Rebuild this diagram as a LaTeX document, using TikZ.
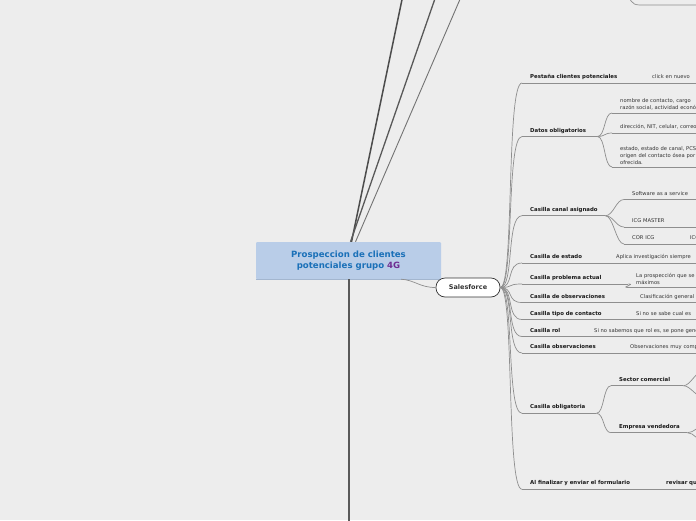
\documentclass[tikz,border=0pt]{standalone}
\usepackage{fontspec}
\setmainfont{DejaVu Sans}
\definecolor{bgc}{HTML}{EDEDED}
\definecolor{lnkc}{HTML}{8E8E8E}
\definecolor{cfill}{HTML}{B9CDE8}
\definecolor{cedge}{HTML}{A3B6CF}
\definecolor{titlec}{HTML}{1A70B8}
\definecolor{tpurple}{HTML}{6E2D91}
\begin{document}
\begin{tikzpicture}[x=1pt,y=-1pt,
  lnk/.style={draw=lnkc,line width=0.7pt},
  ul/.style={draw=lnkc,line width=0.8pt},
  lbl/.style={anchor=south west,inner xsep=8pt,inner ysep=3pt,text depth=1.2pt,align=left,font=\fontsize{5.4}{6.5}\selectfont\bfseries,text=black!90},
  leaf/.style={anchor=south west,inner xsep=8pt,inner ysep=3pt,text depth=1.2pt,align=left,text width=#1,font=\fontsize{5.2}{6.8}\selectfont,text=black!80},
  leaf/.default=130pt,
  mleaf/.style={anchor=south west,inner xsep=8pt,inner ysep=2.5pt,align=left,text width=130pt,font=\fontsize{5.2}{6.8}\selectfont,text=black!80},
  cen/.style={fill=cfill,minimum width=185pt,minimum height=37pt,inner sep=0pt,align=center,text=titlec,font=\fontsize{8.6}{11}\selectfont\bfseries,rounded corners=1pt},
  pill/.style={draw=black!80,fill=white,line width=0.7pt,rounded corners=9pt,minimum width=64pt,minimum height=19pt,inner sep=0pt,font=\fontsize{6.5}{8}\selectfont\bfseries,text=black!80}
]
\useasboundingbox (0,0) rectangle (696,520);
\clip (0,0) rectangle (696,520);
\fill[bgc] (0,0) rectangle (696,520);

% central node
\node[cen] (cen) at (348.5,260.5) {Prospeccion de clientes\\potenciales grupo \textcolor{tpurple}{4G}};
\draw[cedge,line width=0.8pt] (cen.south west) -- (cen.south east);

% trunk lines
\coordinate (t1) at (404,-10);
\coordinate (t2) at (438,-10);
\coordinate (t3) at (464,-10);
\coordinate (tb) at (348.5,530);
\draw[draw=black!70,line width=1.5pt] ([xshift=3pt]cen.north) -- (t1);
\draw[draw=black!65,line width=1.3pt] ([xshift=2pt]cen.north) -- (t2);
\draw[draw=black!55,line width=0.9pt] ([xshift=7pt]cen.north) -- (t3);
\draw[draw=black!65,line width=2pt] (cen.south) -- (tb);

% top-right fragment
\coordinate (ta) at (628,-12);
\coordinate (tc) at (640,5);
\coordinate (td) at (705,5);
\draw[lnk] (ta) .. controls (629,0) and (631,5) .. (tc) -- (td);

% Salesforce
\node[pill] (sf) at (468,287.5) {Salesforce};
\draw[lnk] ([xshift=-40pt]cen.south east) .. controls +(14,1) and +(-16,0) .. (sf.west);

% level 1
\node[lbl,text width=107pt] (pest) at (522,83) {\mbox{Pestaña clientes potenciales}};
\node[lbl,text width=59pt] (datos) at (522,136.5) {\mbox{Datos obligatorios}};
\node[lbl,text width=67pt] (canal) at (522,215.7) {\mbox{Casilla canal asignado}};
\node[lbl,text width=70pt] (estado) at (522,263) {\mbox{Casilla de estado}};
\node[lbl,text width=90pt] (problema) at (522,284) {\mbox{Casilla problema actual}};
\node[lbl,text width=94pt] (obsa) at (522,302.5) {\mbox{Casilla de observaciones}};
\node[lbl,text width=90pt] (tipo) at (522,319.5) {\mbox{Casilla tipo de contacto}};
\node[lbl,text width=48pt] (rol) at (522,336.5) {\mbox{Casilla rol}};
\node[lbl,text width=84pt] (obsb) at (522,353) {\mbox{Casilla observaciones}};
\node[lbl,text width=58pt] (oblig) at (522,413.3) {\mbox{Casilla obligatoria}};
\node[lbl,text width=120pt] (fin) at (522,489.3) {\mbox{Al finalizar y enviar el formulario}};

% level 2
\node[leaf] (click) at (644,83) {click en nuevo};
\node[mleaf] (nombre) at (612,113) {nombre de contacto, cargo\\razón social, actividad económica};
\node[leaf] (direc) at (612,133) {dirección, NIT, celular, correo};
\node[mleaf] (estc) at (612,167) {estado, estado de canal, PCS\\origen del contacto ósea por\\ofrecida.};
\node[leaf] (soft) at (624,199.5) {Software as a service};
\node[leaf] (icgm) at (624,227) {ICG MASTER};
\node[leaf=50pt] (cor) at (624,244) {COR ICG};
\node[leaf] (icg) at (682,244) {ICG};
\node[leaf] (aplica) at (608,263) {Aplica investigación siempre};
\node[mleaf] (prosp) at (628,287.5) {La prospección que se\\máximos};
\node[leaf] (clasif) at (632,302.5) {Clasificación general};
\node[leaf] (sino) at (628,319.5) {Si no se sabe cual es};
\node[leaf=140pt] (sinosab) at (586,336.5) {Si no sabemos que rol es, se pone general};
\node[leaf] (obsmuy) at (622,353) {Observaciones muy completas};
\node[lbl,text width=56pt] (sector) at (611,385.7) {\mbox{Sector comercial}};
\node[lbl,text width=60pt] (empresa) at (611,432.7) {\mbox{Empresa vendedora}};
\node[lbl,text width=60pt] (revisar) at (658,489.3) {\mbox{revisar que}};

% underlines
\foreach \n in {pest,datos,canal,estado,problema,obsa,tipo,rol,obsb,oblig,fin,
  click,nombre,direc,estc,soft,icgm,cor,icg,aplica,prosp,clasif,sino,sinosab,obsmuy,sector,empresa,revisar}
  \draw[ul] (\n.south west) -- (\n.south east);

% Salesforce fan
\draw[draw=black!75,line width=1.6pt] (sf.east) -- ++(3,0);
\foreach \n in {pest,datos,canal,estado,problema,obsa,tipo,rol,obsb,oblig,fin}
  \draw[lnk] (sf.east) .. controls +(14,0) and +(-16,0) .. (\n.south west);

% level 1 to level 2
\foreach \a/\b in {pest/click,datos/nombre,datos/direc,datos/estc,canal/soft,canal/icgm,canal/cor,cor/icg,
  estado/aplica,problema/prosp,obsa/clasif,tipo/sino,rol/sinosab,obsb/obsmuy,oblig/sector,oblig/empresa,fin/revisar}
  \draw[lnk] (\a.south east) .. controls +(8,0) and +(-8,0) .. (\b.south west);

% off-edge children
\coordinate (s1) at (703,371);
\coordinate (s2) at (703,397);
\coordinate (e1) at (704,426);
\coordinate (e2) at (704,441);
\foreach \a/\b in {sector/s1,sector/s2,empresa/e1,empresa/e2}
  \draw[lnk] (\a.south east) .. controls +(7,0) and +(-7,0) .. (\b);
\end{tikzpicture}
\end{document}
